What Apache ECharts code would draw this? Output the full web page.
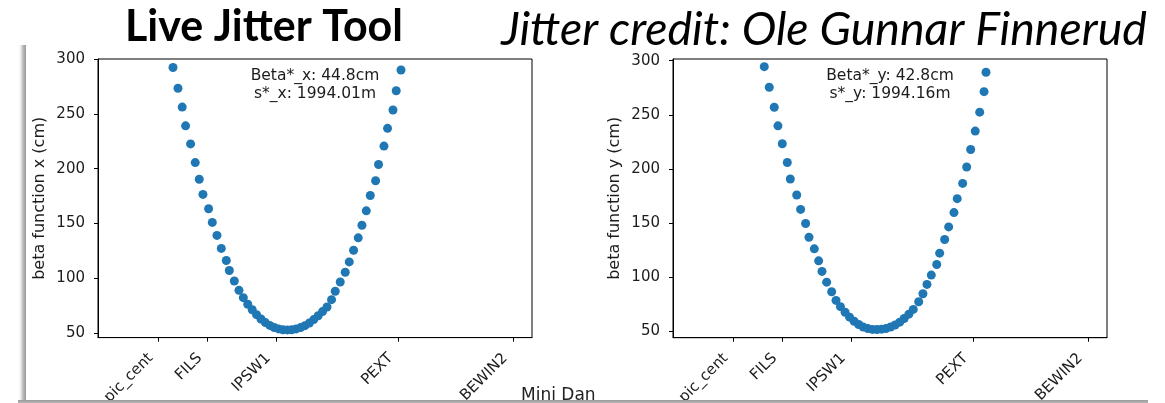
<!DOCTYPE html>
<html>
<head>
<meta charset="utf-8">
<script src="https://cdn.jsdelivr.net/npm/echarts@6/dist/echarts.min.js"></script>
<style>
html,body{margin:0;padding:0;background:#fff;}
#chart{width:1165px;height:403px;}
</style>
</head>
<body>
<div id="chart"></div>
<script>
// ---- data ----
const elementNames = ['pic_cent', 'FILS', 'IPSW1', 'PEXT', 'BEWIN2'];
const elementS = [1992.824, 1993.276, 1993.906, 1995.036, 1996.090];
const yTickValues = [50, 100, 150, 200, 250, 300];

const sX = [1992.957, 1993.003, 1993.042, 1993.073, 1993.119, 1993.162, 1993.199, 1993.233, 1993.285, 1993.319,
  1993.362, 1993.402, 1993.448, 1993.476, 1993.522, 1993.565,
  1993.605, 1993.646, 1993.687, 1993.727, 1993.768, 1993.808, 1993.849, 1993.889, 1993.930, 1993.970,
  1994.011, 1994.051, 1994.092, 1994.133, 1994.173, 1994.214, 1994.254, 1994.295, 1994.335,
  1994.376, 1994.418, 1994.452, 1994.498, 1994.544, 1994.581, 1994.621, 1994.664, 1994.698, 1994.738,
  1994.775, 1994.824, 1994.851, 1994.901, 1994.934, 1994.984, 1995.014, 1995.058];
const betaX = [292.3, 273.3, 256.2, 239.1, 222.6, 205.6, 190.4, 176.6, 163.5, 151.1,
  139.2, 127.4, 116.4, 107.2, 97.7, 89.2,
  82.5, 76.5, 71.5, 67.0, 63.0, 59.8, 57.2, 55.3, 54.0, 53.3,
  53.1, 53.3, 54.0, 55.2, 57.0, 59.4, 62.5, 66.0, 69.8,
  74.0, 80.7, 88.3, 96.8, 105.7, 115.1, 125.7, 137.0, 148.5, 161.6,
  175.6, 189.0, 203.9, 220.6, 236.8, 253.5, 271.1, 290.0];

const sY = [1993.107, 1993.153, 1993.199, 1993.233, 1993.273, 1993.319, 1993.347, 1993.406, 1993.442, 1993.488,
  1993.519, 1993.568, 1993.608, 1993.639, 1993.682, 1993.728, 1993.768,
  1993.809, 1993.852, 1993.893, 1993.935, 1993.977, 1994.019, 1994.061, 1994.103,
  1994.145, 1994.187, 1994.228, 1994.271, 1994.312, 1994.355, 1994.396, 1994.439,
  1994.480, 1994.530, 1994.569, 1994.606, 1994.646, 1994.696, 1994.723, 1994.769, 1994.806,
  1994.855, 1994.885, 1994.935, 1994.972, 1995.009, 1995.051, 1995.092, 1995.132, 1995.150];
const betaY = [294.5, 275.5, 257.0, 239.8, 223.2, 205.9, 190.6, 175.8, 162.5, 149.4,
  136.7, 126.0, 114.9, 105.1, 95.2, 86.3, 78.3,
  72.5, 67.3, 62.8, 59.0, 56.0, 53.6, 52.2, 51.5,
  51.4, 51.7, 52.3, 53.7, 55.6, 58.2, 61.6, 65.6,
  70.0, 77.1, 84.5, 93.1, 101.7, 111.5, 122.0, 134.6, 146.3,
  159.5, 172.4, 186.5, 201.7, 217.9, 234.9, 252.4, 271.4, 289.3];

const sRange = [1992.266, 1996.265];
const betaRangeX = [46.1, 300];
const betaRangeY = [43.8, 301.6];

const annotX = ['Beta*_x: 44.8cm', 's*_x: 1994.01m'];
const annotY = ['Beta*_y: 42.8cm', 's*_y: 1994.16m'];
const yNames = ['beta function x (cm)', 'beta function y (cm)'];
const titleText = 'Live Jitter Tool';
const creditText = 'Jitter credit: Ole Gunnar Finnerud';
const footText = 'Mini Dan';

// ---- chart ----
const FONT = 'DejaVu Sans';
const TXT = '#1c1c1c';
const chart = echarts.init(document.getElementById('chart'), null, {renderer: 'canvas'});

function xAxisDef(gi) {
  return {
    type: 'value', gridIndex: gi, min: sRange[0], max: sRange[1],
    splitLine: {show: false},
    axisLine: {show: true, onZero: false, lineStyle: {color: '#000', width: 1}},
    axisTick: {show: true, customValues: elementS, length: 4, lineStyle: {color: '#000'}},
    axisLabel: {
      show: true, customValues: elementS, rotate: 45, margin: 10.5, padding: [0, 11, 0, 0],
      fontFamily: FONT, fontSize: 15, color: TXT,
      formatter: function (v) {
        const i = elementS.findIndex(t => Math.abs(t - v) < 1e-6);
        return i >= 0 ? elementNames[i] : '';
      }
    }
  };
}
function yAxisDef(gi, range, name) {
  return {
    type: 'value', gridIndex: gi, min: range[0], max: range[1],
    name: name, nameLocation: 'middle', nameRotate: 90, nameGap: 50,
    nameTextStyle: {fontFamily: FONT, fontSize: 16, color: TXT},
    splitLine: {show: false},
    axisLine: {show: true, onZero: false, lineStyle: {color: '#000', width: 1}},
    axisTick: {show: true, customValues: yTickValues, length: 4, lineStyle: {color: '#000'}},
    axisLabel: {show: true, customValues: yTickValues, margin: 13, fontFamily: FONT, fontSize: 15, color: TXT}
  };
}

const option = {
  backgroundColor: '#fff',
  animation: false,
  grid: [
    {left: 98, top: 59, width: 434, height: 278.6, show: true, borderColor: '#000', borderWidth: 1,
     backgroundColor: 'transparent', containLabel: false, outerBoundsMode: 'none'},
    {left: 673, top: 59, width: 434, height: 278.7, show: true, borderColor: '#000', borderWidth: 1,
     backgroundColor: 'transparent', containLabel: false, outerBoundsMode: 'none'}
  ],
  xAxis: [xAxisDef(0), xAxisDef(1)],
  yAxis: [yAxisDef(0, betaRangeX, yNames[0]), yAxisDef(1, betaRangeY, yNames[1])],
  series: [
    {type: 'scatter', xAxisIndex: 0, yAxisIndex: 0, clip: false, symbolSize: 9,
     itemStyle: {color: '#1f77b4', opacity: 1}, data: sX.map((s, i) => [s, betaX[i]])},
    {type: 'scatter', xAxisIndex: 1, yAxisIndex: 1, clip: false, symbolSize: 9,
     itemStyle: {color: '#1f77b4', opacity: 1}, data: sY.map((s, i) => [s, betaY[i]])}
  ],
  graphic: [
    {type: 'text', z: 100, style: {x: 264, y: 27, text: titleText, textAlign: 'center', textVerticalAlign: 'middle',
      font: 'bold 43px Lato', fill: '#000'}},
    {type: 'text', z: 100, style: {x: 824, y: 30, text: creditText, textAlign: 'center', textVerticalAlign: 'middle',
      font: 'italic 46.5px Lato', fill: '#000'}},
    {type: 'text', z: 100, style: {x: 315, y: 85, text: annotX.join('\n'), textAlign: 'center', textVerticalAlign: 'middle',
      font: '15.5px "DejaVu Sans"', fill: TXT, lineHeight: 18}},
    {type: 'text', z: 100, style: {x: 890, y: 85, text: annotY.join('\n'), textAlign: 'center', textVerticalAlign: 'middle',
      font: '15.5px "DejaVu Sans"', fill: TXT, lineHeight: 18}},
    {type: 'text', z: 100, style: {x: 521, y: 396, text: footText, textAlign: 'left', textVerticalAlign: 'middle',
      font: '17px "DejaVu Sans"', fill: '#222'}},
    {type: 'rect', z: 200, shape: {x: 18, y: 45, width: 8, height: 358},
     style: {fill: new echarts.graphic.LinearGradient(0, 0, 1, 0, [
       {offset: 0, color: 'rgba(255,255,255,0)'}, {offset: 0.6, color: 'rgba(160,160,160,0.7)'}, {offset: 1, color: 'rgba(140,140,140,0.9)'}])}},
    {type: 'rect', z: 200, shape: {x: 18, y: 400, width: 1130, height: 3},
     style: {fill: new echarts.graphic.LinearGradient(0, 0, 0, 1, [
       {offset: 0, color: '#9a9a9a'}, {offset: 1, color: '#b8b8b8'}])}}
  ]
};
chart.setOption(option);
</script>
</body>
</html>
